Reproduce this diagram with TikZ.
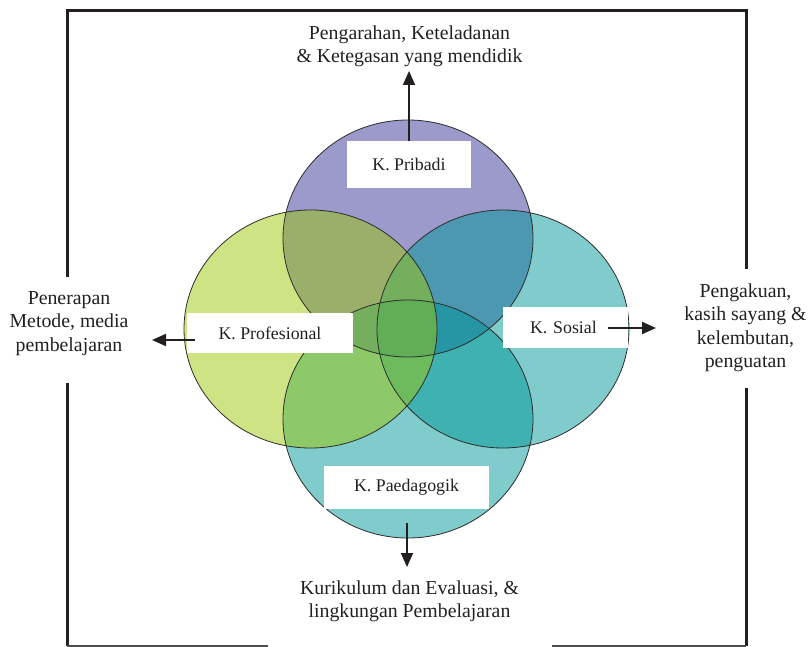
\documentclass[tikz,border=0pt]{standalone}
\usepackage{fontspec}
\setmainfont{Liberation Serif}
\usetikzlibrary{arrows.meta}
\definecolor{cP}{RGB}{55,53,151}
\definecolor{cG}{RGB}{155,199,9}
\definecolor{cC}{RGB}{1,151,151}
\definecolor{edge}{RGB}{45,45,45}
\definecolor{frm}{RGB}{35,31,32}
\tikzset{
  vfill/.style={fill opacity=0.5},
  vedge/.style={draw=edge, line width=0.8pt},
  lbox/.style={fill=white, inner sep=0pt, text=frm, font=\fontsize{17.8}{20}\selectfont},
  sidetext/.style={align=center, inner sep=0pt, font=\fontsize{19.8}{23.5}\selectfont, text=frm},
  arr/.style={draw=frm, line width=1.8pt, -{Triangle[length=14pt,width=12pt]}},
  frame/.style={draw=frm, line width=3pt},
  framethin/.style={draw=frm!80, line width=1.6pt}
}
\begin{document}
\begin{tikzpicture}[x=1pt,y=-1pt]
\useasboundingbox (0,0) rectangle (812,647);
% frame
\draw[frame] (67,277) -- (67,10.5) -- (746,10.5) -- (746,269);
\draw[frame] (67,383) -- (67,646);
\draw[frame] (746,388) -- (746,646);
\draw[framethin] (67,646) -- (268,646);
\draw[framethin] (552,646) -- (746,646);
% circles (fills)
\fill[cP, vfill] (408,238.5) ellipse [x radius=125, y radius=118.5];
\fill[cC, vfill] (408,419) ellipse [x radius=125, y radius=119];
\fill[cC, vfill] (503,329) ellipse [x radius=126, y radius=119];
\fill[cG, vfill] (310.5,329) ellipse [x radius=126.5, y radius=119];
% circle outlines
\draw[vedge] (408,238.5) ellipse [x radius=125, y radius=118.5];
\draw[vedge] (408,419) ellipse [x radius=125, y radius=119];
\draw[vedge] (503,329) ellipse [x radius=126, y radius=119];
\draw[vedge] (310.5,329) ellipse [x radius=126.5, y radius=119];
% label boxes
\node[lbox, minimum width=124pt, minimum height=47pt] (pribadi) at (409,164.5) {K. Pribadi};
\node[lbox, minimum width=166pt, minimum height=40pt] (prof) at (270,333) {K. Profesional};
\node[lbox, text width=71pt, align=left, inner xsep=27pt, minimum height=41pt] (sosial) at (565.5,327.5) {K. Sosial};
\node[lbox, minimum width=165pt, minimum height=43pt] (paed) at (406.5,487.5) {K. Paedagogik};
% outer texts
\node[sidetext] (ttop) at (409.5,46.5) {Pengarahan, Keteladanan\\\& Ketegasan yang mendidik};
\node[sidetext] (tleft) at (69,323.5) {Penerapan\\Metode, media\\pembelajaran};
\node[sidetext] (tright) at (745.5,328) {Pengakuan,\\kasih sayang \&\\kelembutan,\\penguatan};
\node[sidetext] (tbottom) at (409.5,601.5) {Kurikulum dan Evaluasi, \&\\lingkungan Pembelajaran};
% arrow ends
\coordinate (ctop) at (409,71);
\coordinate (cleft) at (152,340);
\coordinate (cright) at (656,328);
\coordinate (cbottom) at (407,567);
% arrows
\draw[arr] (pribadi.north) -- (ctop);
\draw[arr] ([yshift=-7pt,xshift=8pt]prof.west) -- (cleft);
\draw[arr] ([xshift=-20pt,yshift=-0.5pt]sosial.east) -- (cright);
\draw[arr] ([yshift=-14pt,xshift=0.5pt]paed.south) -- (cbottom);
\end{tikzpicture}
\end{document}
